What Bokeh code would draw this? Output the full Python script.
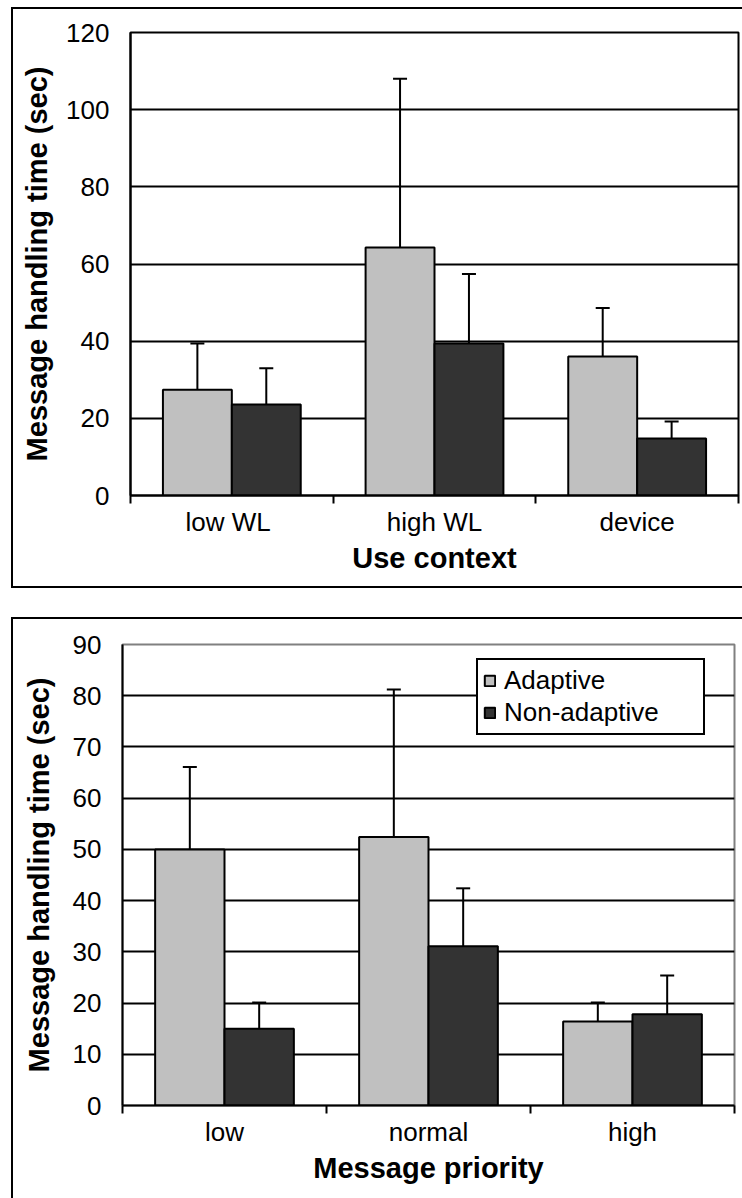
from bokeh.plotting import figure
from bokeh.models import (Range1d, FixedTicker, ColumnDataSource, Whisker, TeeHead,
                          Legend, LegendItem)
from bokeh.layouts import column, row
from bokeh.embed import file_html
from bokeh.resources import INLINE

# Mean message handling time (sec) with upper error bar end, by use context
context_labels = ["low  WL", "high WL", "device"]
context_adaptive = [27.4, 64.3, 36.0]
context_adaptive_upper = [39.4, 108.0, 48.6]
context_nonadaptive = [23.6, 39.4, 14.8]
context_nonadaptive_upper = [33.0, 57.4, 19.2]
context_ticks = [0, 20, 40, 60, 80, 100, 120]

# Same measure by message priority
priority_labels = ["low", "normal", "high"]
priority_adaptive = [50.0, 52.4, 16.4]
priority_adaptive_upper = [66.1, 81.2, 20.1]
priority_nonadaptive = [15.0, 31.1, 17.8]
priority_nonadaptive_upper = [20.1, 42.4, 25.4]
priority_ticks = [0, 10, 20, 30, 40, 50, 60, 70, 80, 90]

series_names = ["Adaptive", "Non-adaptive"]

ADAPTIVE_COLOR = "#c0c0c0"
NONADAPTIVE_COLOR = "#333333"
FONT = "Liberation Sans"
BAR_WIDTH = 0.34


def bar_chart(labels, adaptive, adaptive_upper, nonadaptive, nonadaptive_upper,
              yticks, xtitle, frame_w, borders, frame_color, ytitle_standoff,
              with_legend):
    n = len(labels)
    centers = [i + 0.5 for i in range(n)]
    left, right, top, bottom = borders
    p = figure(frame_width=frame_w, frame_height=459,
               min_border_left=left, min_border_right=right,
               min_border_top=top, min_border_bottom=bottom,
               x_range=Range1d(0, n), y_range=Range1d(yticks[0], yticks[-1]),
               output_backend="svg", toolbar_location=None)
    p.background_fill_color = "white"
    p.border_fill_color = "white"
    p.outline_line_color = frame_color
    p.outline_line_width = 2

    p.xgrid.grid_line_color = None
    p.ygrid.grid_line_color = "black"
    p.ygrid.grid_line_width = 2

    renderers = []
    for k, (vals, upper, color) in enumerate([
            (adaptive, adaptive_upper, ADAPTIVE_COLOR),
            (nonadaptive, nonadaptive_upper, NONADAPTIVE_COLOR)]):
        offset = (k - 0.5) * BAR_WIDTH
        src = ColumnDataSource(dict(x=[c + offset for c in centers],
                                    top=vals, upper=upper))
        r = p.vbar(x="x", top="top", bottom=0, width=BAR_WIDTH, source=src,
                   fill_color=color, line_color="black", line_width=2)
        renderers.append(r)
        p.add_layout(Whisker(source=src, base="x", lower="top", upper="upper",
                             dimension="height", line_color="black", line_width=2,
                             lower_head=None,
                             upper_head=TeeHead(size=14, line_color="black",
                                                line_width=2),
                             level="annotation"))

    xa = p.xaxis[0]
    xa.ticker = FixedTicker(ticks=centers, minor_ticks=list(range(n + 1)))
    xa.major_label_overrides = {c: lab for c, lab in zip(centers, labels)}
    xa.major_tick_line_color = None
    xa.major_tick_out = 0
    xa.minor_tick_line_color = "black"
    xa.minor_tick_line_width = 2
    xa.minor_tick_in = 0
    xa.minor_tick_out = 8
    xa.axis_line_width = 2
    xa.major_label_standoff = 3
    xa.axis_label = xtitle
    xa.axis_label_standoff = 2

    ya = p.yaxis[0]
    ya.ticker = FixedTicker(ticks=yticks)
    ya.major_tick_line_color = None
    ya.minor_tick_line_color = None
    ya.major_tick_out = 0
    ya.axis_line_width = 2
    ya.major_label_standoff = 21
    ya.axis_label = "Message handling time (sec)"
    ya.axis_label_standoff = ytitle_standoff

    for ax in (xa, ya):
        ax.major_label_text_font = FONT
        ax.major_label_text_font_size = "26px"
        ax.major_label_text_color = "black"
        ax.axis_label_text_font = FONT
        ax.axis_label_text_font_size = "29px"
        ax.axis_label_text_font_style = "bold"
        ax.axis_label_text_color = "black"

    if with_legend:
        legend = Legend(items=[LegendItem(label=name, renderers=[r])
                               for name, r in zip(series_names, renderers)],
                        location=(354, 370))
        legend.label_text_font = FONT
        legend.label_text_font_size = "26px"
        legend.label_text_color = "black"
        legend.label_height = 26
        legend.label_width = 194
        legend.glyph_width = 13
        legend.glyph_height = 13
        legend.label_standoff = 8
        legend.spacing = 1
        legend.padding = 5
        legend.margin = 0
        legend.border_line_color = "black"
        legend.border_line_alpha = 1
        legend.border_line_width = 2
        legend.background_fill_color = "white"
        legend.background_fill_alpha = 1
        p.add_layout(legend, "center")
    return p


top = bar_chart(context_labels, context_adaptive, context_adaptive_upper,
                context_nonadaptive, context_nonadaptive_upper, context_ticks,
                "Use context", 606, (117, 6, 23, 95), "black", 10, False)
top.styles = {"border-top": "2px solid black", "border-left": "2px solid black",
              "border-bottom": "2px solid black"}
top.margin = (7, 0, 0, 11)

bottom = bar_chart(priority_labels, priority_adaptive, priority_adaptive_upper,
                   priority_nonadaptive, priority_nonadaptive_upper, priority_ticks,
                   "Message priority", 610, (109, 10, 25, 95), "#808080", 15, True)
bottom.styles = {"border-top": "2px solid black", "border-left": "2px solid black"}
bottom.margin = (29, 0, 0, 11)

# Each plot sits in its own row so the two frames keep their own offsets
layout = column(row(top), row(bottom), spacing=0)
open("out.html", "w").write(file_html(layout, INLINE))
